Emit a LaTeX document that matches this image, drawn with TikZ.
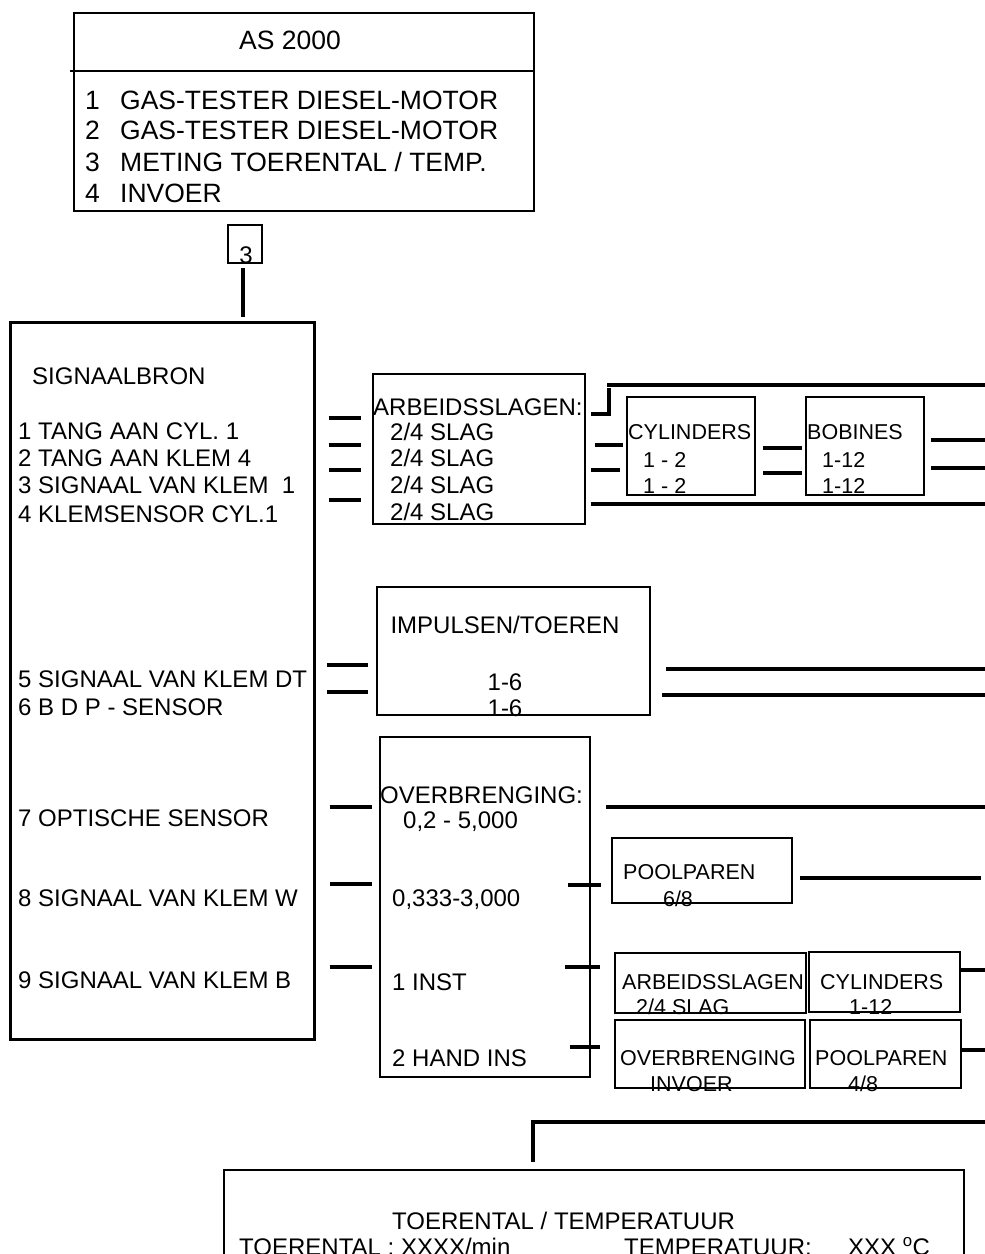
\documentclass[tikz,border=0pt]{standalone}
\usepackage{fontspec}
\setmainfont{Liberation Sans}
\usetikzlibrary{calc}
\begin{document}
\begin{tikzpicture}[x=1pt,y=-1pt,
  box/.style={draw, line width=2pt, inner sep=0pt, anchor=north west},
  conn/.style={line width=4.5pt},
  t/.style={inner sep=0pt, anchor=base west, font=\fontsize{24}{28}\selectfont},
  ts/.style={inner sep=0pt, anchor=base west, font=\fontsize{21.5}{24}\selectfont},
  tl/.style={inner sep=0pt, anchor=base west, font=\fontsize{26.5}{30}\selectfont}]
\path[use as bounding box] (0,0) rectangle (985,1254);
\clip (0,0) rectangle (985,1254);

% ---------- boxes ----------
\node[box, minimum width=460pt, minimum height=198pt] (top) at (73,12) {};
\node[box, minimum width=34pt, minimum height=38pt] (b3) at (227,224) {};
\node[box, line width=2.5pt, minimum width=304pt, minimum height=717pt] (src) at (9,321) {};
\node[box, minimum width=212pt, minimum height=150pt] (arb) at (372,373) {};
\node[box, minimum width=128pt, minimum height=98pt] (cyl) at (626,396) {};
\node[box, minimum width=118pt, minimum height=98pt] (bob) at (805,396) {};
\node[box, minimum width=273pt, minimum height=128pt] (imp) at (376,586) {};
\node[box, minimum width=210pt, minimum height=340pt] (ovb) at (379,736) {};
\node[box, minimum width=180pt, minimum height=65pt] (pool) at (611,837) {};
\node[box, minimum width=191pt, minimum height=60pt] (arbb) at (614,952) {};
\node[box, minimum width=151pt, minimum height=60pt] (cylb) at (808,951) {};
\node[box, minimum width=190pt, minimum height=68pt] (ovbb) at (614,1019) {};
\node[box, minimum width=151pt, minimum height=68pt] (poolb) at (809,1019) {};
\node[box, minimum width=740pt, minimum height=200pt] (res) at (223,1169) {};

% divider in top box
\draw[line width=2pt] (70,71) -- (top.east |- 0,71);

% ---------- texts ----------
\node[tl, anchor=base] (tAS) at (290,49.5) {AS 2000};
\node[tl] (tA1) at (85,109.5) {\makebox[35pt][l]{1}GAS-TESTER DIESEL-MOTOR};
\node[tl] (tA2) at (85,139.5) {\makebox[35pt][l]{2}GAS-TESTER DIESEL-MOTOR};
\node[tl] (tA3) at (85,171.5) {\makebox[35pt][l]{3}METING TOERENTAL / TEMP.};
\node[tl] (tA4) at (85,202.5) {\makebox[35pt][l]{4}INVOER};
\node[t, anchor=base] (t3) at (246,263.6) {3};

\node[t] (s0) at (32,384.6) {SIGNAALBRON};
\node[t] (s1) at (18,439.6) {1 TANG AAN CYL. 1};
\node[t] (s2) at (18,466.6) {2 TANG AAN KLEM 4};
\node[t] (s3) at (18,493.6) {3 SIGNAAL VAN KLEM\ \ 1};
\node[t] (s4) at (18,522.6) {4 KLEMSENSOR CYL.1};
\node[t] (s5) at (18,687.6) {5 SIGNAAL VAN KLEM DT};
\node[t] (s6) at (18,715.6) {6 B D P - SENSOR};
\node[t] (s7) at (18,826.6) {7 OPTISCHE SENSOR};
\node[t] (s8) at (18,906.6) {8 SIGNAAL VAN KLEM W};
\node[t] (s9) at (18,988.6) {9 SIGNAAL VAN KLEM B};

\node[t] (a0) at (373,415.6) {ARBEIDSSLAGEN:};
\node[t] (a1) at (390,440.6) {2/4 SLAG};
\node[t] (a2) at (390,466.6) {2/4 SLAG};
\node[t] (a3) at (390,493.6) {2/4 SLAG};
\node[t] (a4) at (390,520.6) {2/4 SLAG};

\node[ts] (c0) at (628,439.7) {CYLINDERS};
\node[ts] (c1) at (643,467.7) {1 - 2};
\node[ts] (c2) at (643,493.7) {1 - 2};
\node[ts] (o0) at (807,439.7) {BOBINES};
\node[ts] (o1) at (822,467.7) {1-12};
\node[ts] (o2) at (822,493.7) {1-12};

\node[t, anchor=base] (i0) at (505,633.6) {IMPULSEN/TOEREN};
\node[t, anchor=base] (i1) at (505,690.6) {1-6};
\node[t, anchor=base] (i2) at (505,716.6) {1-6};

\node[t] (v0) at (380,803.6) {OVERBRENGING:};
\node[t] (v1) at (403,828.6) {0,2 - 5,000};
\node[t] (v2) at (392,906.6) {0,333-3,000};
\node[t] (v3) at (392,990.6) {1 INST};
\node[t] (v4) at (392,1066.6) {2 HAND INS};

\node[ts] (p0) at (623,879.7) {POOLPAREN};
\node[ts, anchor=base] (p1) at (678,906.7) {6/8};

\node[ts] (ab0) at (622,989.7) {ARBEIDSSLAGEN};
\node[ts] (ab1) at (636,1014.7) {2/4 SLAG};
\node[ts] (cb0) at (820,989.7) {CYLINDERS};
\node[ts] (cb1) at (849,1014.7) {1-12};
\node[ts] (ob0) at (620,1065.7) {OVERBRENGING};
\node[ts] (ob1) at (650,1091.7) {INVOER};
\node[ts] (pb0) at (815,1065.7) {POOLPAREN};
\node[ts] (pb1) at (848,1091.7) {4/8};

\node[t] (r0) at (392,1229.6) {TOERENTAL / TEMPERATUUR};
\node[t] (r1) at (239,1255.6) {TOERENTAL : XXXX/min};
\node[t] (r2) at (624,1255.6) {TEMPERATUUR:};
\node[t] (r3) at (848,1255.6) {XXX $^{\mathrm{o}}$C};

% ---------- connectors ----------
\draw[conn] ($(b3.south)+(-2,4)$) -- ($(b3.south |- src.north)+(-2,-4)$);

% signal source -> arbeidsslagen
\foreach \yy in {418,445,470,500}
  \draw[conn] ($(src.east |- 0,\yy)+(13,0)$) -- ($(arb.west |- 0,\yy)+(-11,0)$);
% bracket and top line
\draw[conn] ($(arb.east |- 0,414)+(5,0)$) -- (609,414) -- (609,388);
\coordinate (rt1) at (985,385);
\draw[conn] (607,385) -- (rt1);
% arbeidsslagen -> cylinders
\draw[conn] ($(arb.east |- 0,445)+(9,0)$) -- ($(cyl.west |- 0,445)+(-3,0)$);
\draw[conn] ($(arb.east |- 0,470)+(5,0)$) -- ($(cyl.west |- 0,470)+(-6,0)$);
% cylinders -> bobines
\draw[conn] ($(cyl.east |- 0,448)+(7,0)$) -- ($(bob.west |- 0,448)+(-3,0)$);
\draw[conn] ($(cyl.east |- 0,473)+(7,0)$) -- ($(bob.west |- 0,473)+(-3,0)$);
% bobines -> right
\coordinate (rt2) at (985,440);
\coordinate (rt3) at (985,468);
\draw[conn] ($(bob.east |- rt2)+(6,0)$) -- (rt2);
\draw[conn] ($(bob.east |- rt3)+(6,0)$) -- (rt3);
% bottom line of first group
\coordinate (rt4) at (985,504);
\draw[conn] ($(arb.east |- rt4)+(5,0)$) -- (rt4);

% impulsen
\foreach \yy in {665,692}
  \draw[conn] ($(src.east |- 0,\yy)+(11,0)$) -- ($(imp.west |- 0,\yy)+(-8,0)$);
\coordinate (rt5) at (985,669);
\coordinate (rt6) at (985,695);
\draw[conn] ($(imp.east |- rt5)+(15,0)$) -- (rt5);
\draw[conn] ($(imp.east |- rt6)+(11,0)$) -- (rt6);

% overbrenging
\foreach \yy in {807,884,967}
  \draw[conn] ($(src.east |- 0,\yy)+(14,0)$) -- ($(ovb.west |- 0,\yy)+(-7,0)$);
\coordinate (rt7) at (985,807);
\draw[conn] ($(ovb.east |- rt7)+(15,0)$) -- (rt7);
\draw[conn] ($(ovb.east |- 0,885)+(-23,0)$) -- ($(pool.west |- 0,885)+(-10,0)$);
\draw[conn] ($(ovb.east |- 0,967)+(-26,0)$) -- ($(arbb.west |- 0,967)+(-14,0)$);
\draw[conn] ($(ovb.east |- 0,1047)+(-21,0)$) -- ($(ovbb.west |- 0,1047)+(-14,0)$);
\coordinate (rt8) at (981,878);
\draw[conn] ($(pool.east |- rt8)+(7,0)$) -- (rt8);
\coordinate (rt9) at (985,970);
\coordinate (rt10) at (985,1050);
\draw[conn] (cylb.east |- rt9) -- (rt9);
\draw[conn] (poolb.east |- rt10) -- (rt10);

% result
\coordinate (rt11) at (985,1122);
\draw[conn] ($(res.north west)+(310,-7)$) -- (533,1122) -- (rt11);
\end{tikzpicture}
\end{document}
